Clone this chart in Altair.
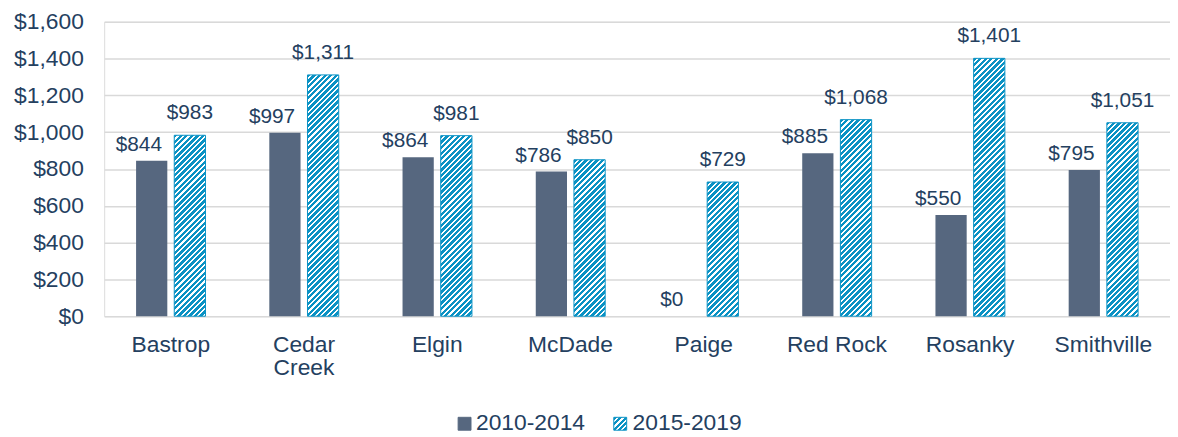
import altair as alt
import pandas as pd

# ---- data ----
places = ["Bastrop", "Cedar Creek", "Elgin", "McDade", "Paige", "Red Rock", "Rosanky", "Smithville"]
rent_2010_2014 = [844, 997, 864, 786, 0, 885, 550, 795]
rent_2015_2019 = [983, 1311, 981, 850, 729, 1068, 1401, 1051]
series = ["2010-2014", "2015-2019"]
y_ticks = [0, 200, 400, 600, 800, 1000, 1200, 1400, 1600]
y_max = 1600

# ---- styling ----
DARK = "#56677f"
BLUE = "#0a92c4"
TEXT = "#24405f"
GRID = "#d9d9d9"
FONT = "Liberation Sans"

PLOT_W = 1075
PLOT_H = 297
PAD_IN = 0.479
OFF_PAD = 0.182
step = PLOT_W / len(places)
group_w = step * (1 - PAD_IN)
bar_w = group_w / (2 - OFF_PAD) * (1 - OFF_PAD)


def hatch(w, h, period=5.6, frac=0.6):
    """Linear gradient with hard stops that draws 45-degree stripes on a w x h box."""
    r = h / w
    c = (1 + r) / (1 + r * r)
    dt = period / (w + h)
    stops = []
    t = 0.0
    while t < 1:
        a = min(t + dt * frac, 1.0)
        b = min(t + dt, 1.0)
        stops += [
            {"offset": round(t, 5), "color": BLUE},
            {"offset": round(a, 5), "color": BLUE},
            {"offset": round(a, 5), "color": "#ffffff"},
            {"offset": round(b, 5), "color": "#ffffff"},
        ]
        t += dt
    return {"gradient": "linear", "x1": 0, "y1": 0, "x2": c, "y2": c * r, "stops": stops}


rows = []
for p, a, b in zip(places, rent_2010_2014, rent_2015_2019):
    rows.append({"place": p, "period": series[0], "value": a, "fill": DARK, "edge": "transparent"})
    rows.append({"place": p, "period": series[1], "value": b,
                 "fill": hatch(bar_w, max(b, 1) / y_max * PLOT_H), "edge": BLUE})
df = pd.DataFrame(rows)

x_enc = alt.X(
    "place:N", sort=places, title=None,
    scale=alt.Scale(paddingInner=PAD_IN, paddingOuter=PAD_IN / 2),
    axis=alt.Axis(labelAngle=0, domain=False, ticks=False, grid=False, labelPadding=18,
                  labelFontSize=23, labelColor=TEXT, labelLineHeight=23, labelFont=FONT,
                  labelExpr="datum.label == 'Cedar Creek' ? ['Cedar', 'Creek'] : datum.label"),
)
xoff_enc = alt.XOffset("period:N", sort=series,
                       scale=alt.Scale(paddingInner=OFF_PAD, paddingOuter=0))
y_enc = alt.Y(
    "value:Q", stack=None, title=None,
    scale=alt.Scale(domain=[0, y_max], nice=False),
    axis=alt.Axis(values=y_ticks, format="$,.0f", domain=False, ticks=False, labelPadding=21,
                  labelFontSize=23, labelColor=TEXT, labelFont=FONT,
                  gridColor=GRID, gridWidth=1.5),
)

bars = alt.Chart(df).mark_bar(strokeWidth=1).encode(
    x=x_enc, xOffset=xoff_enc, y=y_enc,
    fill=alt.Fill("fill:N", scale=None),
    stroke=alt.Stroke("edge:N", scale=None),
)

lab_a = alt.Chart(df).transform_filter(alt.datum.period == series[0]).mark_text(
    dx=-13, dy=-10, baseline="alphabetic", fontSize=21, color=TEXT, font=FONT
).encode(x=x_enc, xOffset=xoff_enc, y=y_enc, text=alt.Text("value:Q", format="$,.0f"))

lab_b = alt.Chart(df).transform_filter(alt.datum.period == series[1]).mark_text(
    dx=0, dy=-16, baseline="alphabetic", fontSize=21, color=TEXT, font=FONT
).encode(x=x_enc, xOffset=xoff_enc, y=y_enc, text=alt.Text("value:Q", format="$,.0f"))

# ---- legend (drawn below the axis, centred) ----
LEG_SQ = 13
leg_sq_x = [357, 514]
leg_txt_x = [375, 533]
leg_y_top = 399
leg_base = 412

legend_layers = []
for i, s in enumerate(series):
    fill = DARK if i == 0 else hatch(LEG_SQ, LEG_SQ, period=5.5, frac=0.55)
    legend_layers.append(
        alt.Chart(pd.DataFrame({"series": [s]})).mark_rect(
            stroke=DARK if i == 0 else BLUE, strokeWidth=1
        ).encode(
            x=alt.value(leg_sq_x[i]), x2=alt.value(leg_sq_x[i] + LEG_SQ),
            y=alt.value(leg_y_top), y2=alt.value(leg_y_top + LEG_SQ),
            fill=alt.value(fill),
        )
    )
    legend_layers.append(
        alt.Chart(pd.DataFrame({"series": [s]})).mark_text(
            align="left", baseline="alphabetic", fontSize=23, color=TEXT, font=FONT
        ).encode(x=alt.value(leg_txt_x[i]), y=alt.value(leg_base), text="series:N")
    )

chart = alt.layer(bars, lab_a, lab_b, *legend_layers).properties(
    width=PLOT_W, height=PLOT_H,
    padding={"left": 97, "top": 12, "right": 0, "bottom": 120},
    autosize=alt.AutoSizeParams(type="none"),
).configure_view(stroke=None).configure(background="white", font=FONT)

chart.save("out.html", embed_options={"renderer": "svg", "actions": False})
